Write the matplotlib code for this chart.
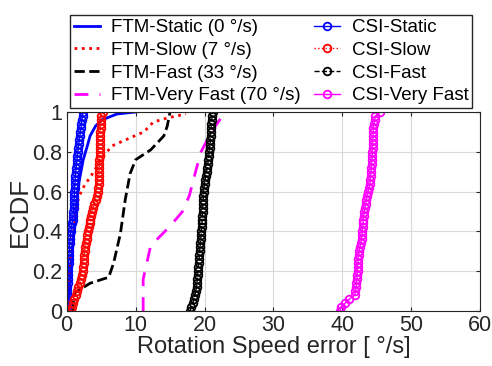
import numpy as np
import matplotlib
matplotlib.use("Agg")
import matplotlib.pyplot as plt

plt.rcParams['font.family'] = ['Liberation Sans', 'DejaVu Sans']

# FTM curves: vertices of the ECDF lines
ftm_static_x = [0.0, 0.3, 0.8, 1.3, 1.8, 2.4, 3.0, 3.4, 4.2, 5.1, 7.3, 10.0]
ftm_static_y = [0.0, 0.10, 0.30, 0.50, 0.65, 0.76, 0.83, 0.88, 0.93, 0.96, 0.99, 1.0]

ftm_slow_x = [0.0, 0.3, 0.5, 0.9, 1.2, 1.7, 2.7, 3.4, 5.1, 6.6, 9.2, 11.2, 12.6, 14.6, 17.3]
ftm_slow_y = [0.0, 0.10, 0.25, 0.38, 0.44, 0.57, 0.64, 0.67, 0.77, 0.83, 0.87, 0.90, 0.95, 0.97, 0.99]

ftm_fast_x = [0.9, 1.0, 1.1, 3.4, 6.1, 6.8, 7.8, 8.5, 9.2, 10.0, 12.2, 14.1, 14.6, 15.0]
ftm_fast_y = [0.0, 0.07, 0.09, 0.14, 0.17, 0.24, 0.39, 0.56, 0.69, 0.76, 0.81, 0.88, 0.93, 1.0]

ftm_vfast_x = [11.1, 11.1, 12.2, 13.1, 15.1, 16.8, 17.8, 18.7, 19.5, 20.7, 21.6, 22.6, 23.0]
ftm_vfast_y = [0.0, 0.16, 0.33, 0.36, 0.43, 0.50, 0.58, 0.70, 0.80, 0.88, 0.93, 0.98, 1.0]

# CSI samples (sorted errors)
csi_static = [0.00, 0.02, 0.04, 0.06, 0.08, 0.10, 0.12, 0.14, 0.16, 0.19, 0.22, 0.24, 0.27,
              0.30, 0.33, 0.36, 0.40, 0.44, 0.49, 0.55, 0.62, 0.70, 0.78, 0.85, 0.92, 0.98,
              1.02, 1.05, 1.08, 1.10, 1.13, 1.16, 1.20, 1.24, 1.28, 1.33, 1.38, 1.44, 1.50,
              1.56, 1.62, 1.68, 1.76, 1.84, 1.92, 2.00, 2.08, 2.15, 2.22, 2.30, 2.40]
csi_slow = [0.7, 0.8, 0.95, 1.1, 1.3, 1.5, 1.7, 1.9, 2.1, 2.2, 2.3, 2.35, 2.45, 2.5, 2.55,
            2.62, 2.68, 2.75, 2.9, 3.0, 3.1, 3.2, 3.35, 3.45, 3.55, 3.7, 3.85, 4.0, 4.2, 4.35,
            4.5, 4.6, 4.62, 4.65, 4.68, 4.7, 4.72, 4.74, 4.76, 4.8, 4.82, 4.84, 4.86, 4.87,
            4.88, 4.9, 4.92, 4.95, 4.97, 5.0, 5.2]
csi_fast = [17.9, 18.1, 18.3, 18.5, 18.6, 18.7, 18.85, 18.9, 18.95, 19.0, 19.05, 19.1, 19.15,
            19.2, 19.25, 19.3, 19.35, 19.4, 19.45, 19.5, 19.55, 19.6, 19.62, 19.66, 19.7, 19.72,
            19.75, 19.78, 19.8, 19.84, 19.88, 19.92, 20.0, 20.1, 20.2, 20.3, 20.4, 20.48, 20.55,
            20.62, 20.7, 20.75, 20.8, 20.85, 20.88, 20.9, 20.95, 21.0, 21.05, 21.1, 21.2]
csi_vfast = [39.6, 39.8, 40.4, 41.0, 41.8, 41.9, 42.0, 42.05, 42.1, 42.15, 42.2, 42.22, 42.25,
             42.3, 42.35, 42.45, 42.55, 42.7, 42.8, 42.85, 42.9, 42.95, 43.0, 43.05, 43.1, 43.2,
             43.3, 43.4, 43.5, 43.6, 43.75, 43.9, 44.0, 44.05, 44.1, 44.15, 44.2, 44.25, 44.3,
             44.32, 44.35, 44.38, 44.4, 44.42, 44.45, 44.48, 44.5, 44.55, 44.7, 44.8, 45.5]

fig = plt.figure(figsize=(4.92, 3.66), dpi=100)
ax = fig.add_axes([0.1355, 0.150, 0.8405, 0.544])

ax.plot(ftm_static_x, ftm_static_y, '-', color='blue', lw=2, label='FTM-Static (0 °/s)')
ax.plot(ftm_slow_x, ftm_slow_y, ':', color='red', lw=2, label='FTM-Slow (7 °/s)')
ax.plot(ftm_fast_x, ftm_fast_y, '--', color='black', lw=2, label='FTM-Fast (33 °/s)')
ax.plot(ftm_vfast_x, ftm_vfast_y, color='magenta', lw=2, dashes=(5, 4),
        label='FTM-Very Fast (70 °/s)')

csi = [(csi_static, 'blue', '-', 'CSI-Static'),
       (csi_slow, 'red', ':', 'CSI-Slow'),
       (csi_fast, 'black', '--', 'CSI-Fast'),
       (csi_vfast, 'magenta', '-', 'CSI-Very Fast')]
for vals, c, ls, lab in csi:
    v = np.sort(np.array(vals))
    f = np.linspace(0, 1, len(v))
    ax.plot(v, f, ls, color=c, lw=1, marker='o', ms=5.5, mfc='none', mew=1.3, label=lab)

ax.set_xlim(0, 60)
ax.set_ylim(0, 1)
ax.set_xticks(np.arange(0, 61, 10))
ax.set_yticks(np.arange(0, 1.01, 0.2))
ax.set_yticklabels(['0', '0.2', '0.4', '0.6', '0.8', '1'])
ax.grid(True, color='0.85', lw=0.8)
ax.set_axisbelow(True)
ax.tick_params(direction='in', top=True, right=True, labelsize=15.5, colors='0.15',
               length=3, pad=3)
for s in ax.spines.values():
    s.set_color('0.15')
ax.set_xlabel('Rotation Speed error [ °/s]', fontsize=17, color='0.15', labelpad=0)
ax.set_ylabel('ECDF', fontsize=18.5, color='0.15', labelpad=0)

fig.legend(loc='upper center', bbox_to_anchor=(0.551, 0.984), ncol=2, fontsize=13.5,
           numpoints=1, handlelength=1.4, labelspacing=0.3, columnspacing=0.7,
           handletextpad=0.6, borderpad=0.2, fancybox=False, edgecolor='0.15',
           framealpha=1)

fig.savefig('out.png', dpi=100)
